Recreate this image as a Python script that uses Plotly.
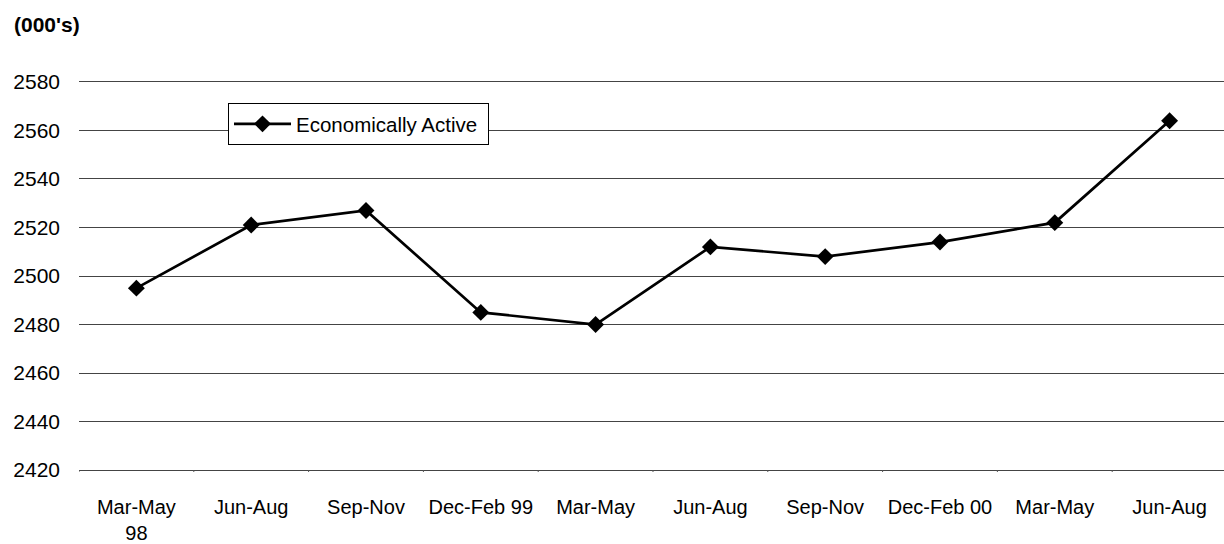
import plotly.graph_objects as go

categories = ["Mar-May<br>98", "Jun-Aug", "Sep-Nov", "Dec-Feb 99", "Mar-May",
              "Jun-Aug", "Sep-Nov", "Dec-Feb 00", "Mar-May", "Jun-Aug"]
cat_ids = list(range(len(categories)))
econ_active = [2495, 2521, 2527, 2485, 2480, 2512, 2508, 2514, 2522, 2564]
series_name = "Economically Active\u00a0"
y_ticks = [2420, 2440, 2460, 2480, 2500, 2520, 2540, 2560, 2580]

FONT = "Liberation Sans, Arial, sans-serif"
TOP, BOTTOM = 80, 472
PLOT_H = BOTTOM - TOP
PLOT_W = 1145
PX_PER_UNIT = 388 / 160

fig = go.Figure()
fig.add_trace(go.Scatter(
    x=cat_ids, y=econ_active, name=series_name, mode="lines+markers",
    line=dict(color="black", width=2.7),
    marker=dict(symbol="diamond", size=13, color="black"),
    showlegend=True,
))

fig.update_layout(
    width=1224, height=544,
    margin=dict(l=79, r=0, t=TOP, b=544 - BOTTOM),
    paper_bgcolor="white", plot_bgcolor="white",
    font=dict(family=FONT, size=20, color="black"),
    showlegend=True,
    legend=dict(
        x=(228 - 79) / PLOT_W, y=(BOTTOM - 103) / PLOT_H, xanchor="left", yanchor="top",
        bordercolor="black", borderwidth=1, bgcolor="white",
        font=dict(size=20.5, family=FONT), itemwidth=57,
    ),
    xaxis=dict(
        type="linear", range=[-0.5, 9.474],
        tickmode="array", tickvals=cat_ids, ticktext=categories,
        showgrid=False, zeroline=False, showline=False,
        ticks="", ticklabelstandoff=21,
        tickfont=dict(size=20, family=FONT),
    ),
    yaxis=dict(
        range=[2419.2, 2580.8], tickmode="array", tickvals=y_ticks,
        showgrid=True, gridcolor="#444", gridwidth=1,
        zeroline=False, showline=False, ticks="",
        ticklabelstandoff=18,
        tickfont=dict(size=21, family=FONT),
    ),
    annotations=[dict(
        text="<b>(000's)</b>", xref="paper", yref="paper",
        x=(12 - 79) / PLOT_W, y=(BOTTOM - 25) / PLOT_H, xanchor="left", yanchor="middle",
        showarrow=False, font=dict(size=21, family=FONT),
    )],
)

# tick marks between categories along the bottom axis
for b in [i - 0.5 for i in range(len(categories) + 1)]:
    fig.add_shape(type="line", xref="x", yref="y", x0=b, x1=b,
                  y0=y_ticks[0], y1=y_ticks[0] - 7 / PX_PER_UNIT,
                  line=dict(color="#555", width=1))

fig.write_html("out.html", post_script="document.body.style.margin='0';",
               config={"displayModeBar": False})
